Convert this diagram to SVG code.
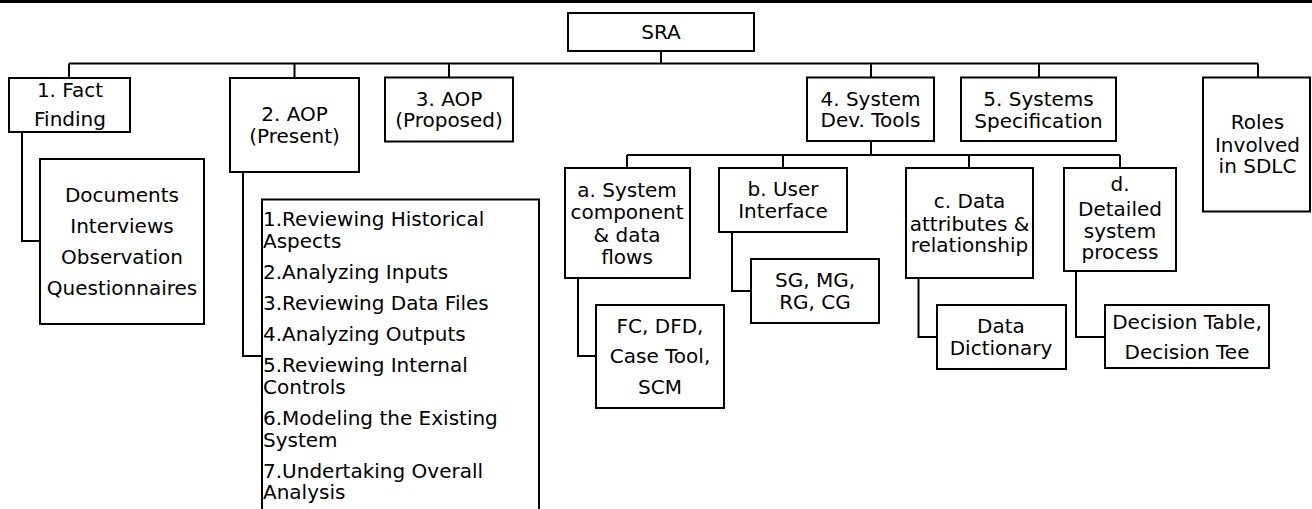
<svg xmlns="http://www.w3.org/2000/svg" width="1312" height="509" viewBox="0 0 1312 509">
  <style>
    .box { fill: #ffffff; stroke: #000000; stroke-width: 2; }
    .wire { fill: none; stroke: #000000; stroke-width: 2; }
    text { font-family: "DejaVu Sans", Verdana, sans-serif; font-size: 20px; fill: #000000; }
    .c { text-anchor: middle; }
  </style>

  <!-- top rule -->
  <rect x="0" y="0" width="1312" height="3" fill="#000000"/>

  <!-- connectors -->
  <g id="connectors" class="wire">
    <path d="M661 51 V63.5"/>
    <path d="M69 63.5 H1258"/>
    <path d="M69 63.5 V78 M294.5 63.5 V78 M449 63.5 V77.5 M871 63.5 V77.5 M1039 63.5 V77.5 M1258 63.5 V77.5"/>
    <path d="M22 132 V241 H40"/>
    <path d="M243 172 V356 H262"/>
    <path d="M871 141 V155 M627 155 H1120 M627 155 V168 M783 155 V168 M969 155 V168 M1120 155 V168"/>
    <path d="M578 278 V356 H596"/>
    <path d="M732 232 V291 H751"/>
    <path d="M918.5 278 V337 H937"/>
    <path d="M1076 271 V337 H1105"/>
  </g>

  <g id="sra">
    <rect class="box" x="568" y="13" width="186" height="38"/>
    <text class="c" x="661" y="39">SRA</text>
  </g>

  <g id="fact-finding">
    <rect class="box" x="9" y="78" width="121" height="54"/>
    <text class="c" x="70" y="97">1. Fact</text>
    <text class="c" x="70" y="126">Finding</text>
  </g>

  <g id="fact-methods">
    <rect class="box" x="40" y="159" width="164" height="165"/>
    <text class="c" x="122" y="201.5">Documents</text>
    <text class="c" x="122" y="232.5">Interviews</text>
    <text class="c" x="122" y="263.5">Observation</text>
    <text class="c" x="122" y="294.5">Questionnaires</text>
  </g>

  <g id="aop-present">
    <rect class="box" x="230" y="78" width="129" height="94"/>
    <text class="c" x="294.5" y="121">2. AOP</text>
    <text class="c" x="294.5" y="143">(Present)</text>
  </g>

  <g id="aop-steps">
    <rect class="box" x="262" y="199.5" width="277" height="330"/>
    <text x="263" y="226">1.Reviewing Historical</text>
    <text x="263" y="248">Aspects</text>
    <text x="263" y="278.5">2.Analyzing Inputs</text>
    <text x="263" y="310">3.Reviewing Data Files</text>
    <text x="263" y="340.5">4.Analyzing Outputs</text>
    <text x="263" y="371.5">5.Reviewing Internal</text>
    <text x="263" y="393.5">Controls</text>
    <text x="263" y="425">6.Modeling the Existing</text>
    <text x="263" y="446.5">System</text>
    <text x="263" y="477.5">7.Undertaking Overall</text>
    <text x="263" y="499">Analysis</text>
  </g>

  <g id="aop-proposed">
    <rect class="box" x="385" y="77.5" width="128" height="64"/>
    <text class="c" x="449" y="105.5">3. AOP</text>
    <text class="c" x="449" y="127">(Proposed)</text>
  </g>

  <g id="system-dev-tools">
    <rect class="box" x="807" y="77.5" width="127" height="63.5"/>
    <text class="c" x="870.5" y="105.5">4. System</text>
    <text class="c" x="870.5" y="127">Dev. Tools</text>
  </g>

  <g id="systems-spec">
    <rect class="box" x="961" y="77.5" width="155" height="63.5"/>
    <text class="c" x="1038.5" y="105.5">5. Systems</text>
    <text class="c" x="1038.5" y="127.5">Specification</text>
  </g>

  <g id="roles">
    <rect class="box" x="1203" y="77.5" width="107" height="134"/>
    <text class="c" x="1257.5" y="129">Roles</text>
    <text class="c" x="1257.5" y="151.5">Involved</text>
    <text class="c" x="1257.5" y="173">in SDLC</text>
  </g>

  <g id="components-flows">
    <rect class="box" x="565" y="168" width="125" height="110"/>
    <text class="c" x="627" y="196.5">a. System</text>
    <text class="c" x="627" y="218.5">component</text>
    <text class="c" x="627" y="241.5">&amp; data</text>
    <text class="c" x="627" y="263.5">flows</text>
  </g>

  <g id="flow-tools">
    <rect class="box" x="596" y="305" width="128" height="103"/>
    <text class="c" x="660" y="332.5">FC, DFD,</text>
    <text class="c" x="660" y="362.5">Case Tool,</text>
    <text class="c" x="660" y="394">SCM</text>
  </g>

  <g id="user-interface">
    <rect class="box" x="719" y="168" width="128" height="64"/>
    <text class="c" x="783" y="196">b. User</text>
    <text class="c" x="783" y="218">Interface</text>
  </g>

  <g id="ui-guides">
    <rect class="box" x="751" y="259" width="128" height="64"/>
    <text class="c" x="815" y="287">SG, MG,</text>
    <text class="c" x="815" y="309">RG, CG</text>
  </g>

  <g id="data-attributes">
    <rect class="box" x="906" y="168" width="127" height="110"/>
    <text class="c" x="969.5" y="208">c. Data</text>
    <text class="c" x="969.5" y="230.5">attributes &amp;</text>
    <text class="c" x="969.5" y="252">relationship</text>
  </g>

  <g id="data-dictionary">
    <rect class="box" x="937" y="305" width="129" height="64"/>
    <text class="c" x="1001" y="333">Data</text>
    <text class="c" x="1001" y="355">Dictionary</text>
  </g>

  <g id="system-process">
    <rect class="box" x="1064" y="168" width="112" height="103"/>
    <text class="c" x="1120" y="190.5">d.</text>
    <text class="c" x="1120" y="216">Detailed</text>
    <text class="c" x="1120" y="237.5">system</text>
    <text class="c" x="1120" y="259">process</text>
  </g>

  <g id="decision-tools">
    <rect class="box" x="1105" y="305" width="164" height="63"/>
    <text class="c" x="1187" y="328.5">Decision Table,</text>
    <text class="c" x="1187" y="358.5">Decision Tee</text>
  </g>
</svg>
